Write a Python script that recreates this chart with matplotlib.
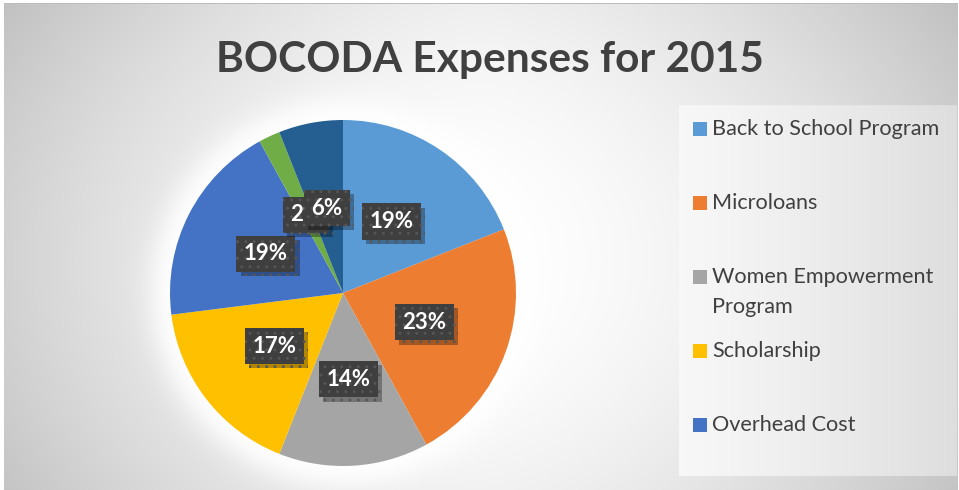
import numpy as np
import matplotlib
matplotlib.use("Agg")
import matplotlib.pyplot as plt
from matplotlib.patches import Rectangle
from matplotlib import patheffects as pe

# ---- data ----
title = "BOCODA Expenses for 2015"
categories = ["Back to School Program", "Microloans", "Women Empowerment\nProgram",
              "Scholarship", "Overhead Cost", "Other", "Miscellaneous"]
values = [19, 23, 14, 17, 19, 2, 6]
colors = ["#5B9BD5", "#ED7D31", "#A5A5A5", "#FFC000", "#4472C4", "#70AD47", "#255E91"]
legend_shown = 5  # only first five entries visible in the legend

W, H = 959, 490
plt.rcParams['hatch.color'] = '#565656'
plt.rcParams['hatch.linewidth'] = 0.9
fig = plt.figure(figsize=(W / 100, H / 100), dpi=100)

# ---- background (gradient) ----
yy, xx = np.mgrid[0:H, 0:W].astype(float)
cx, cy = 480.0, 260.0
v = 1 - 0.18 * (np.abs(xx - cx) / 480) ** 1.6 - 0.06 * (np.abs(yy - cy) / 245) ** 2
# soft white glow around pie
pcx, pcy, pr = 343.0, 293.0, 173.0
dp = np.hypot(xx - pcx, yy - pcy)
glow = np.exp(-(np.clip(dp - pr, 0, None) / 24.0) ** 2)
v = v + (1 - v) * glow * 0.9
# legend panel
lx0, lx1, ly0, ly1 = 679, 957, 106, 476
mask = (xx >= lx0) & (xx < lx1) & (yy >= ly0) & (yy < ly1)
lv = 0.97 - 0.10 * ((xx - lx0) / (lx1 - lx0)) ** 1.2
v = np.where(mask, lv, v)
# outer frame
v[:4, :] = 1.0
v[4, :] = 0.74
v[:, :4] = 1.0
v[:, 958:] = 1.0
v = np.clip(v, 0, 1)
img = np.dstack([v, v, v])
bg = fig.add_axes([0, 0, 1, 1], zorder=-10)
bg.imshow(img, extent=(0, W, H, 0), interpolation='bilinear', aspect='auto')
bg.set_xlim(0, W)
bg.set_ylim(H, 0)
bg.axis('off')

# ---- title ----
fig.text(490 / W, 1 - 72 / H, title, ha='center', va='baseline',
         fontsize=30.5, fontweight='bold', color='#404040', family='Lato')

# ---- pie ----
ax = fig.add_axes([(pcx - pr) / W, (H - pcy - pr) / H, 2 * pr / W, 2 * pr / H])
wedges, texts, autotexts = ax.pie(
    values, colors=colors, startangle=90, counterclock=False, radius=1,
    autopct=lambda p: f"{p:.0f}%", pctdistance=0.5,
    wedgeprops=dict(linewidth=0),
    textprops=dict(color='white', fontsize=16, fontweight='bold', family='Lato'))
ax.set_xlim(-1, 1)
ax.set_ylim(-1, 1)
ax.set_aspect('equal')
ax.axis('off')
for t in autotexts:
    t.set_bbox(dict(boxstyle='square,pad=0.34', fc='#3f3f3f', ec='#565656', lw=0, hatch='..'))
    t.get_bbox_patch().set_path_effects(
        [pe.SimplePatchShadow(offset=(3, -3), shadow_rgbFace='black', alpha=0.3), pe.Normal()])

# ---- legend (manual, first five entries) ----
y0, dy = 129, 74
for i in range(legend_shown):
    yc = y0 + dy * i
    fig.patches.append(Rectangle((693 / W, 1 - (yc + 7) / H), 14 / W, 14 / H,
                                 transform=fig.transFigure, fc=colors[i], ec='none'))
    fig.text(712 / W, 1 - (yc - 10) / H, categories[i], ha='left', va='top',
             fontsize=15.6, color='#404040', family='Lato', linespacing=1.6)

fig.savefig('out.png', dpi=100)
